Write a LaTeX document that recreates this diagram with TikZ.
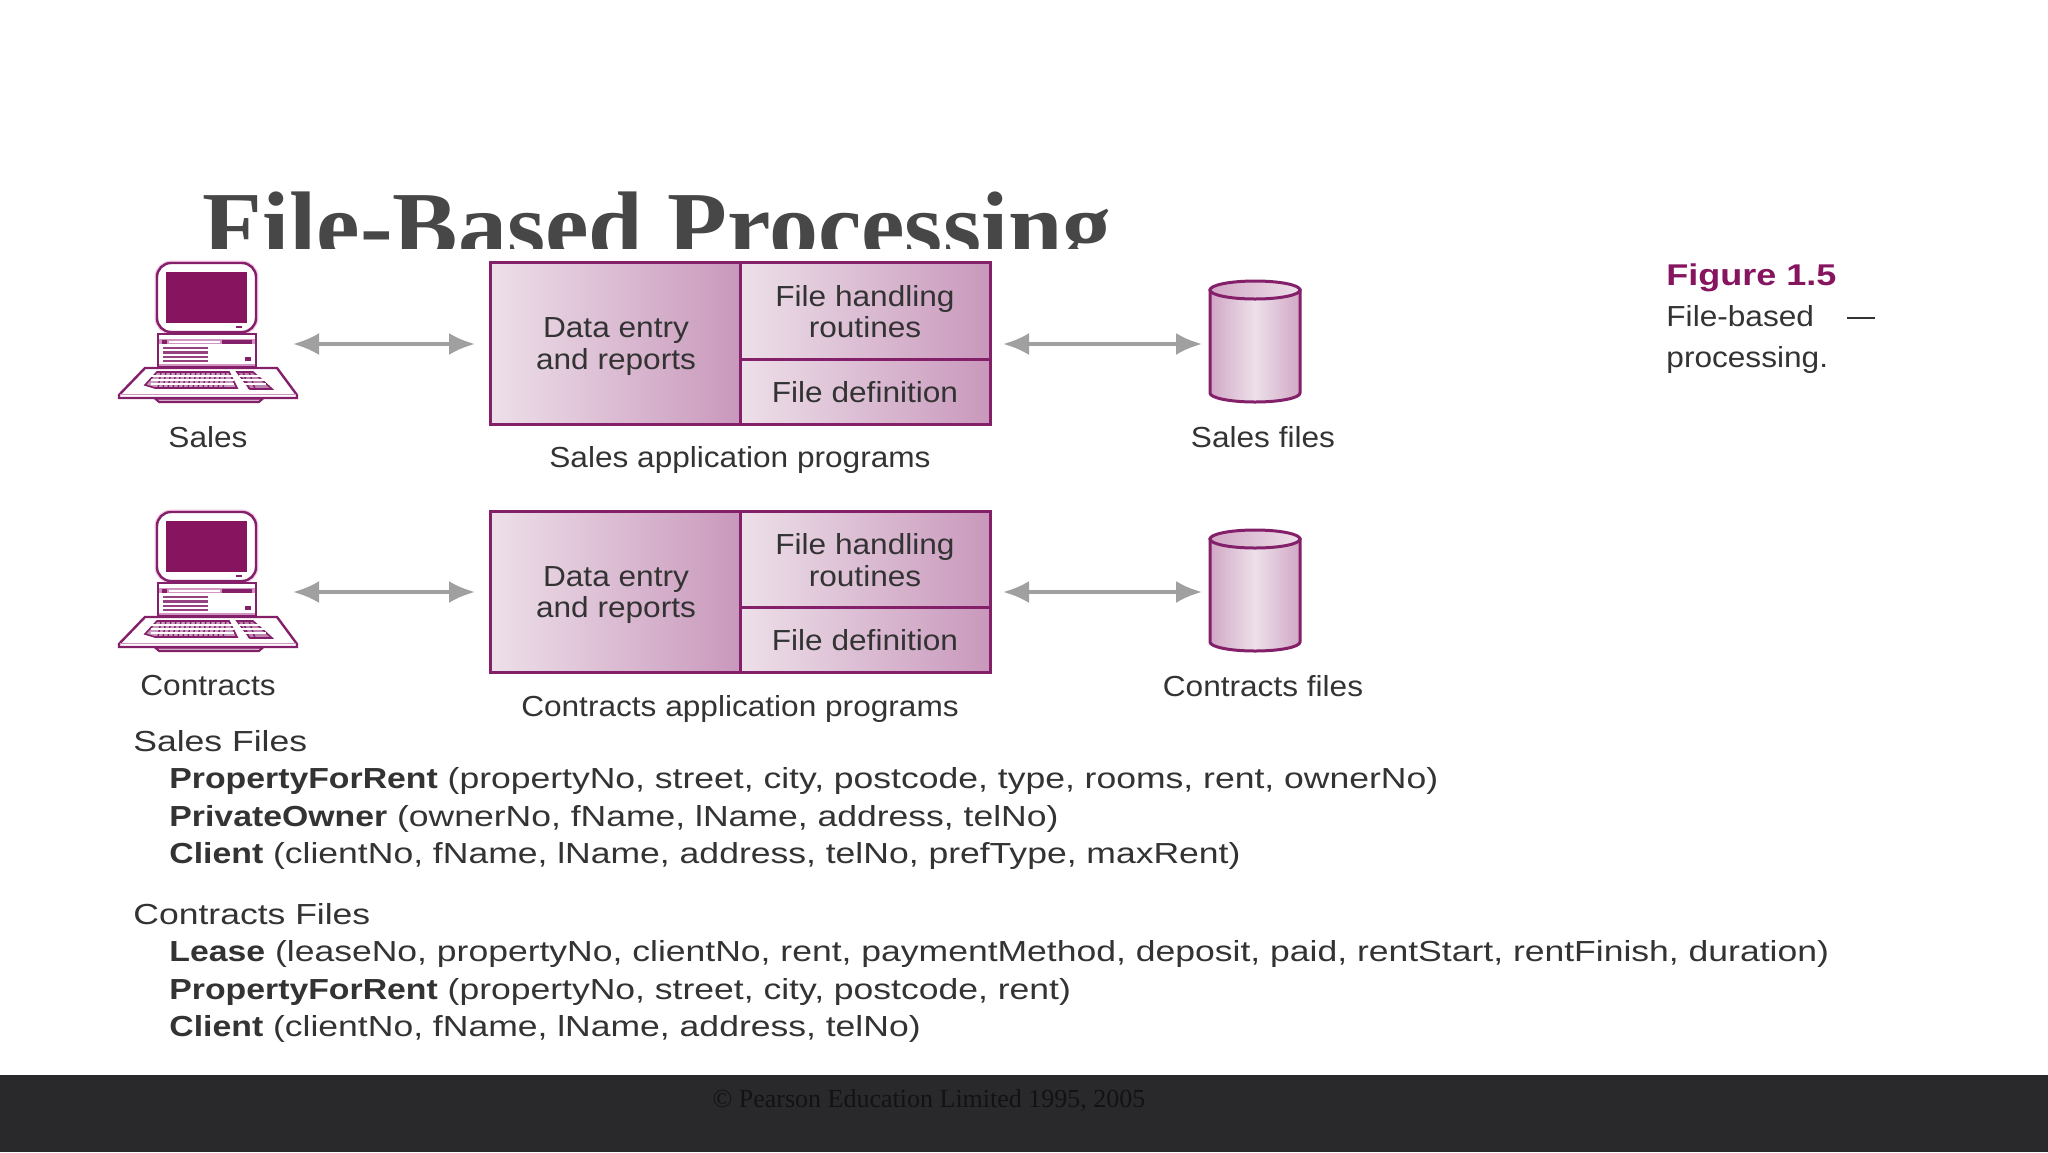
\documentclass[tikz,border=0pt]{standalone}
\usepackage{fontspec}
\setmainfont{Liberation Sans}
\newfontfamily\serifface{Liberation Serif}
\newfontfamily\titleface{Liberation Serif}[FakeStretch=1.02]
\newfontfamily\listface{Liberation Sans}[FakeStretch=1.225,BoldFeatures={FakeStretch=1.165}]
\newfontfamily\lblface{Liberation Sans}[FakeStretch=1.09]
\newfontfamily\figface{Liberation Sans}[FakeStretch=1.2]
\usetikzlibrary{arrows.meta}
\definecolor{mag}{HTML}{84206A}
\definecolor{screenc}{HTML}{86145F}
\definecolor{halo}{HTML}{F3C6E4}
\definecolor{boxl}{HTML}{EDE0E9}
\definecolor{boxr}{HTML}{C998BC}
\definecolor{ink}{HTML}{333333}
\definecolor{arrowc}{HTML}{A0A0A0}
\definecolor{band}{HTML}{29282B}
\definecolor{copyc}{HTML}{121214}
\tikzset{
  lbl/.style={font=\lblface\fontsize{14.5pt}{15.7pt}\selectfont,text=ink,inner sep=0pt,align=center},
  listh/.style={font=\listface\fontsize{14.5pt}{15pt}\selectfont,text=ink,inner sep=0pt,anchor=base west},
  caph/.style={font=\lblface\fontsize{14.5pt}{15pt}\selectfont,text=ink,inner sep=0pt,anchor=base west},
  cell/.style={draw=mag,line width=1.5pt,left color=boxl,right color=boxr},
  twoway/.style={draw=arrowc,line width=1.8pt,{Latex[length=13pt,width=11pt]}-{Latex[length=13pt,width=11pt]}},
  pc/.style={draw=mag,line width=.8pt},
}
\newcommand{\compu}[2]{%
\begin{scope}[shift={(#1,#2)}]
  % monitor
  \draw[halo,line width=2.4pt,rounded corners=7pt] (157,263) rectangle (256,332);
  \draw[pc,fill=white,line width=1.2pt,rounded corners=7pt] (157,263) rectangle (256,332);
  \fill[screenc] (166,272) rectangle (247,323);
  \fill[mag] (236,326) rectangle (242,328);
  \draw[pc,fill=white] (175,332) rectangle (178,335) (235,332) rectangle (238,335);
  % base unit
  \draw[pc,fill=white,line width=1.2pt] (158,334) rectangle (256,367);
  \fill[halo!70!mag] (159,339) rectangle (255,344);
  \fill[white] (169,340.5) rectangle (220,342.5);
  \fill[mag] (222,340) rectangle (252,343.5);
  \fill[mag] (162,340) rectangle (167,343.5);
  \foreach \yy in {348,352.5,357,361}{\draw[mag!85,line width=1.2pt] (163,\yy) -- (208,\yy);}
  \fill[mag] (245,357) rectangle (251,361);
  \draw[halo!70!mag,line width=1.4pt] (159,365) -- (255,365);
  % desk
  \draw[pc,fill=mag!35,line width=1pt] (155,398.5) -- (263,398.5) -- (259,402) -- (159,402) -- cycle;
  \draw[pc,fill=white,line width=1.2pt] (145,368) -- (277,368) -- (297,395) -- (297,398) -- (119,398) -- (119,395) -- cycle;
  \draw[halo!70!mag,line width=.9pt] (120,394.5) -- (296,394.5);
  % main keys
  \draw[pc,fill=mag!45,line width=.8pt] (155,388) -- (237,388) -- (229,372) -- (157,372) -- (145,385) -- cycle;
  \foreach \xx in {161,166,...,226}{\draw[mag,line width=.7pt] (\xx,372) -- ({\xx-3},388);}
  \foreach \yy in {376,380,384}{\draw[white,line width=.7pt] (151,\yy) -- (234,\yy);}
  % number pad
  \draw[pc,fill=mag!55] (237,372) -- (253,372) -- (272,389) -- (250,389) -- cycle;
  \foreach \xx in {243,249}{\draw[mag,line width=.7pt] (\xx,372) -- ({\xx+6},389);}
  \foreach \yy in {376,380,384}{\draw[white,line width=.7pt] (239,\yy) -- (266,\yy);}
\end{scope}}
\newcommand{\cylin}[3]{%
  \draw[draw=mag,line width=1.5pt,left color=boxr!85!white,right color=boxr!85!white,middle color=boxl] (#2-45,#3-112) -- (#2-45,#3-9) arc[start angle=180,end angle=0,x radius=45,y radius=9] -- (#2+45,#3-112) -- cycle;
  \draw[draw=mag,line width=1.5pt,left color=boxr!85!white,right color=boxl] (#2,#3-112) ellipse[x radius=45,y radius=9];
}
\newcommand{\appbox}[1]{%
  \draw[cell] (490,#1) rectangle (740,#1+161.5);
  \draw[cell] (740,#1) rectangle (990,#1+96.5);
  \draw[cell] (740,#1+96.5) rectangle (990,#1+161.5);
}
\begin{document}
\begin{tikzpicture}[x=0.5pt,y=-0.5pt]
\useasboundingbox (0,0) rectangle (2048,1152);
\fill[white] (0,0) rectangle (2048,1152);
% title
\begin{scope}
\clip (0,0) rectangle (2048,248);
\node[font=\titleface\bfseries\fontsize{48pt}{50pt}\selectfont,text=ink!90!white,inner sep=0pt,anchor=base west] (title) at (202,258) {File-Based Processing};
\end{scope}
% row 1
\compu{0}{0}
\node[lbl] (sales) at (208,437) {Sales};
\appbox{262.5}
\node[lbl] (sde) at (616,346.5) {Data entry\\and reports};
\node[lbl] (sfh) at (865,311.5) {File handling\\routines};
\node[lbl] (sfd) at (865,392) {File definition};
\node[lbl] (sap) at (740,460) {Sales application programs};
\cylin{sc}{1255}{402}
\node[lbl] (sfl) at (1263,437) {Sales files};
\coordinate (a1) at (293,344); \coordinate (b1) at (475,344);
\coordinate (c1) at (1003,344); \coordinate (d1) at (1202,344);
\draw[twoway] (a1) -- (b1);
\draw[twoway] (c1) -- (d1);
% row 2
\compu{0}{249}
\node[lbl] (con) at (208,686) {Contracts};
\appbox{511}
\node[lbl] (cde) at (616,595) {Data entry\\and reports};
\node[lbl] (cfh) at (865,560) {File handling\\routines};
\node[lbl] (cfd) at (865,640.5) {File definition};
\node[lbl] (cap) at (740,708.5) {Contracts application programs};
\cylin{cc}{1255}{651}
\node[lbl] (cfl) at (1263,686) {Contracts files};
\coordinate (a2) at (293,592); \coordinate (b2) at (475,592);
\coordinate (c2) at (1003,592); \coordinate (d2) at (1202,592);
\draw[twoway] (a2) -- (b2);
\draw[twoway] (c2) -- (d2);
% figure caption
\node[font=\figface\bfseries\fontsize{15pt}{16pt}\selectfont,text=screenc,inner sep=0pt,anchor=base west] (fig) at (1666,285) {Figure 1.5};
\node[caph] (cap1) at (1666,326) {File-based};
\node[caph] (cap2) at (1666,367) {processing.};
\coordinate (da) at (1847,318); \coordinate (db) at (1875,318);
\draw[ink,line width=1pt] (da) -- (db);
% lists
\node[listh] (h1) at (133,751) {Sales Files};
\node[listh] (l1) at (169,788) {\textbf{PropertyForRent} (propertyNo, street, city, postcode, type, rooms, rent, ownerNo)};
\node[listh] (l2) at (169,826) {\textbf{PrivateOwner} (ownerNo, fName, lName, address, telNo)};
\node[listh] (l3) at (169,863) {\textbf{Client} (clientNo, fName, lName, address, telNo, prefType, maxRent)};
\node[listh] (h2) at (133,924) {Contracts Files};
\node[listh] (m1) at (169,961) {\textbf{Lease} (leaseNo, propertyNo, clientNo, rent, paymentMethod, deposit, paid, rentStart, rentFinish, duration)};
\node[listh] (m2) at (169,999) {\textbf{PropertyForRent} (propertyNo, street, city, postcode, rent)};
\node[listh] (m3) at (169,1036) {\textbf{Client} (clientNo, fName, lName, address, telNo)};
% band
\fill[band] (0,1075) rectangle (2048,1152);
\node[font=\serifface\fontsize{13pt}{14pt}\selectfont,text=copyc,inner sep=0pt] (copy) at (929,1100) {© Pearson Education Limited 1995, 2005};
\end{tikzpicture}
\end{document}
